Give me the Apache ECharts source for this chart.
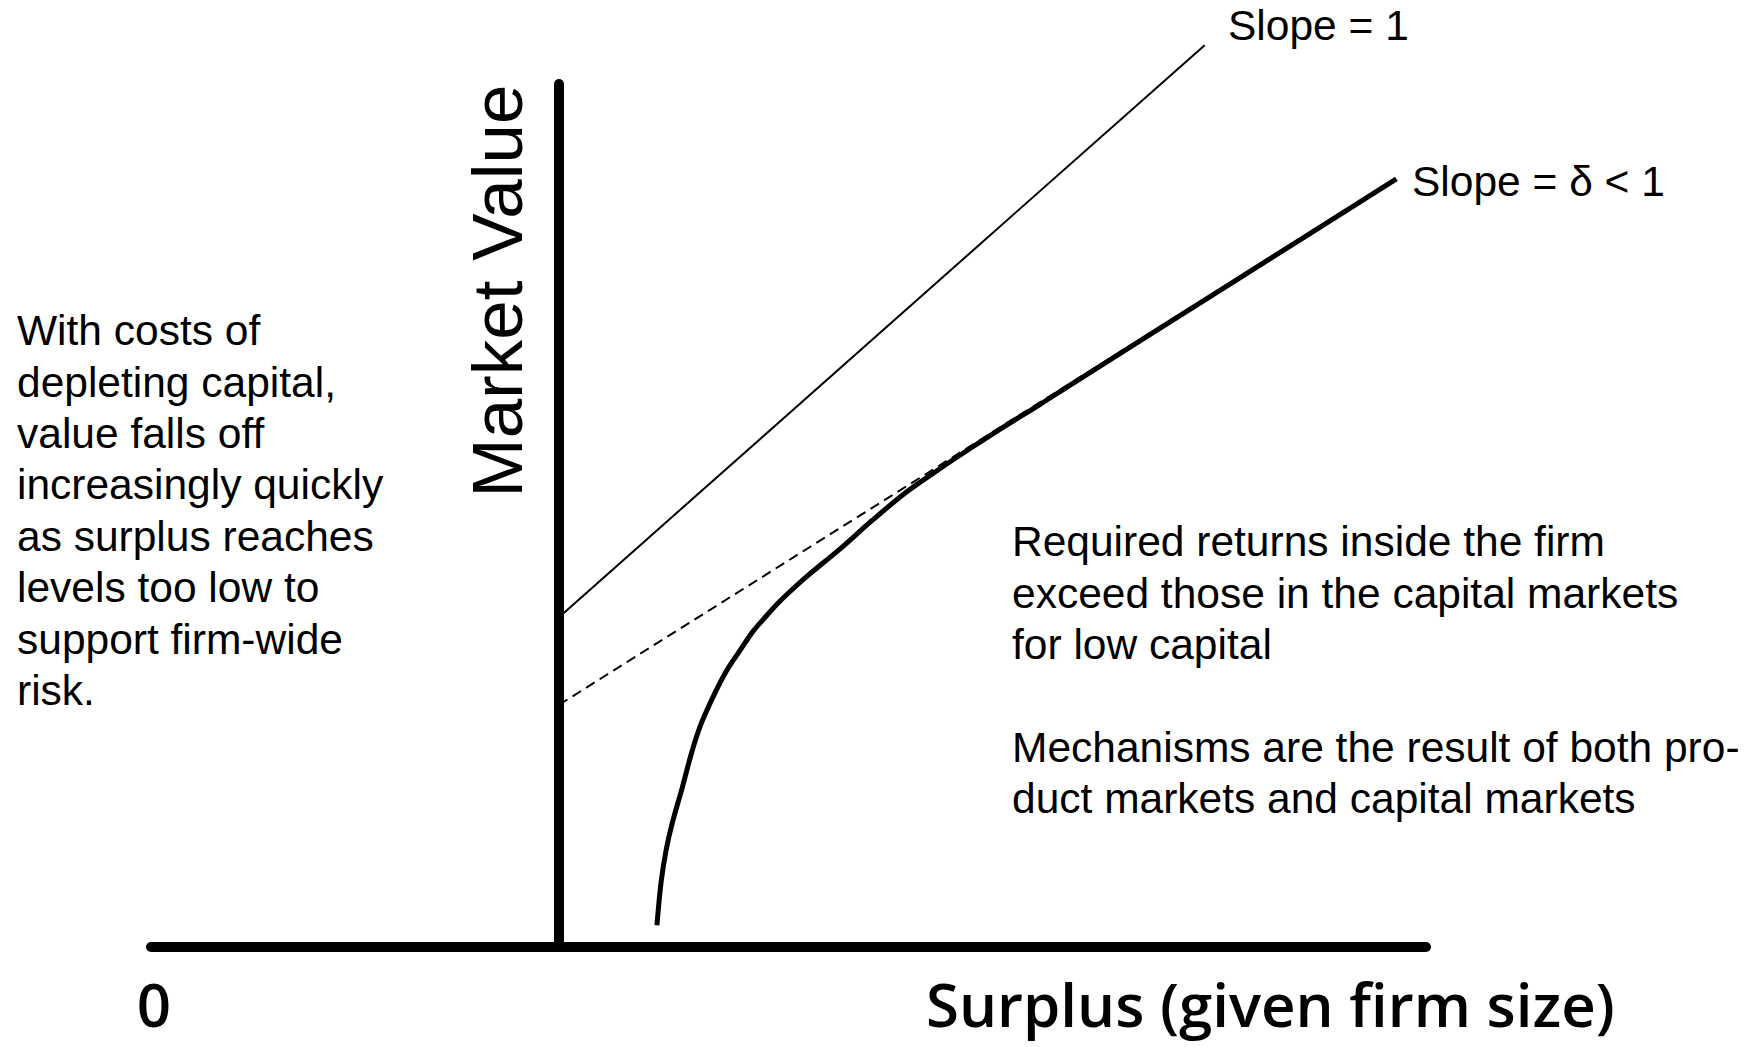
<!DOCTYPE html>
<html>
<head>
<meta charset="utf-8">
<script src="https://cdn.jsdelivr.net/npm/echarts@6/dist/echarts.min.js"></script>
<style>
  html, body { margin: 0; padding: 0; background: #fff; }
  #chart { width: 1754px; height: 1047px; }
</style>
</head>
<body>
<div id="chart"></div>
<script>
// surplus (x) vs market value (y), arbitrary units
const slopeOneLine = [[0, 3.65], [6.33, 9.98]];
const tangentLine = [[0, 2.68], [8.0, 8.36]];
const valueCurve = [
  [0.96, 0.24], [1.00, 0.71], [1.05, 1.07], [1.11, 1.37], [1.21, 1.77],
  [1.30, 2.15], [1.39, 2.46], [1.52, 2.79], [1.65, 3.07], [1.78, 3.29],
  [1.90, 3.49], [2.03, 3.66], [2.16, 3.82], [2.30, 3.97], [2.45, 4.12],
  [2.75, 4.40], [3.07, 4.72], [3.40, 5.03], [3.73, 5.29], [4.05, 5.53],
  [4.38, 5.77], [4.71, 6.00], [5.00, 6.21], [6.57, 7.33], [8.21, 8.50]
];

const leftNote = [
  'With costs of',
  'depleting capital,',
  'value falls off',
  'increasingly quickly',
  'as surplus reaches',
  'levels too low to',
  'support firm-wide',
  'risk.'
];
const rightNote = [
  'Required returns inside the firm',
  'exceed those in the capital markets',
  'for low capital',
  '',
  'Mechanisms are the result of both pro-',
  'duct markets and capital markets'
];

const chart = echarts.init(document.getElementById('chart'), null, { renderer: 'svg' });

const bodyFont = '42.5px "Liberation Sans", Arial, sans-serif';
const axisFont = '600 60px "Open Sans", sans-serif';

const option = {
  animation: false,
  backgroundColor: '#fff',
  grid: { left: 151, right: 328, top: 84, bottom: 100 },
  xAxis: {
    type: 'value',
    min: -4,
    max: 8.5,
    axisLine: { onZero: true, lineStyle: { color: '#000', width: 10 } },
    axisTick: { show: false },
    axisLabel: { show: false },
    splitLine: { show: false }
  },
  yAxis: {
    type: 'value',
    min: 0,
    max: 9.55,
    axisLine: { show: true, onZero: true, lineStyle: { color: '#000', width: 10 } },
    axisTick: { show: false },
    axisLabel: { show: false },
    splitLine: { show: false }
  },
  series: [
    {
      name: 'Slope = 1',
      type: 'line',
      data: slopeOneLine,
      showSymbol: false,
      clip: false,
      lineStyle: { color: '#000', width: 2 }
    },
    {
      name: 'tangent',
      type: 'line',
      data: tangentLine,
      showSymbol: false,
      clip: false,
      lineStyle: { color: '#000', width: 2, type: [10, 6] }
    },
    {
      name: 'Market Value',
      type: 'line',
      data: valueCurve,
      showSymbol: false,
      smooth: 0.3,
      clip: false,
      lineStyle: { color: '#000', width: 5 }
    }
  ],
  graphic: [
    {
      type: 'text', x: 497, y: 291, rotation: Math.PI / 2,
      style: {
        text: 'Market Value', fill: '#000',
        font: '71px "Liberation Sans", Arial, sans-serif',
        textAlign: 'center', textVerticalAlign: 'middle'
      }
    },
    {
      type: 'text', x: 1228, y: 25,
      style: { text: 'Slope = 1', fill: '#000', font: bodyFont, textVerticalAlign: 'middle' }
    },
    {
      type: 'text', x: 1412, y: 181,
      style: { text: 'Slope = δ < 1', fill: '#000', font: bodyFont, textVerticalAlign: 'middle' }
    },
    {
      type: 'text', x: 17, y: 305,
      style: {
        text: leftNote.join('\n'), fill: '#000', font: bodyFont,
        lineHeight: 51.4, textVerticalAlign: 'top'
      }
    },
    {
      type: 'text', x: 1012, y: 516,
      style: {
        text: rightNote.join('\n'), fill: '#000', font: bodyFont,
        lineHeight: 51.4, textVerticalAlign: 'top'
      }
    },
    {
      type: 'text', x: 154, y: 1004,
      style: {
        text: '0', fill: '#000', font: axisFont,
        textAlign: 'center', textVerticalAlign: 'middle'
      }
    },
    {
      type: 'text', x: 926, y: 1004,
      style: {
        text: 'Surplus (given firm size)', fill: '#000', font: axisFont,
        textVerticalAlign: 'middle'
      }
    }
  ]
};

chart.setOption(option);
</script>
</body>
</html>
